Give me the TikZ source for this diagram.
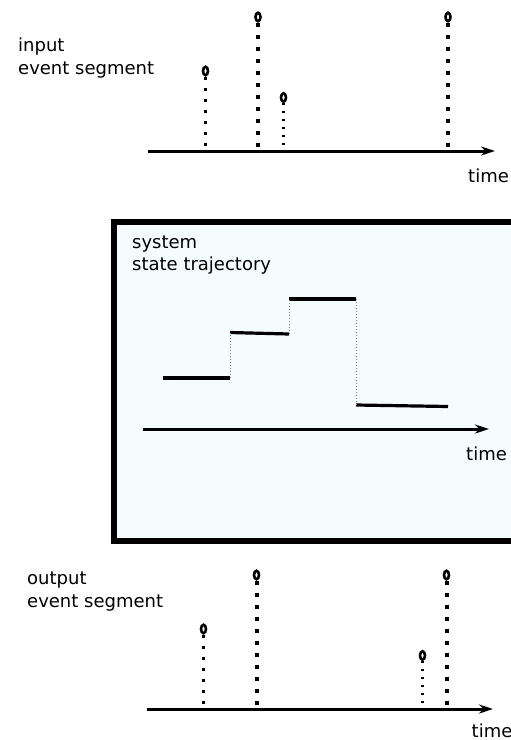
\documentclass[tikz,border=0pt]{standalone}
\usepackage{fontspec}
\setmainfont{DejaVu Sans}
\usetikzlibrary{shapes.geometric,arrows.meta}
\definecolor{boxfill}{RGB}{245,252,252}

\begin{document}
\begin{tikzpicture}[x=1pt,y=-1pt,
  lbl/.style={anchor=base west,inner sep=0pt,font=\fontsize{18}{22.5}\selectfont,align=left},
  ev/.style={draw,ellipse,line width=2.6pt,minimum width=5pt,minimum height=8.5pt,inner sep=0pt},
  bigstem/.style={line width=4pt,dash pattern=on 4pt off 8pt},
  smallstem/.style={line width=3pt,dash pattern=on 3pt off 8pt},
  tinystem/.style={line width=2.4pt,dash pattern=on 2.4pt off 5.6pt},
  timeaxis/.style={line width=3pt,-{Stealth[length=14pt,width=9pt]}},
  level/.style={line width=3.2pt},
  jump/.style={gray,line width=1pt,dotted}]
\useasboundingbox (0,0) rectangle (511,740);

    \node[lbl] (intext) at (18,74) {input\\event segment};
    \coordinate (inleft) at (148,151);
    \coordinate (inright) at (495,151);
    \draw[timeaxis] (inleft) -- (inright);
    \node[lbl] (intime) at (468,182) {time};
    \node[ev] (ina) at (205.5,71) {};
    \node[ev] (inb) at (258,17) {};
    \node[ev] (inc) at (283.5,97.5) {};
    \node[ev] (ind) at (448,17) {};
    \coordinate (ina0) at (205.5,151);
    \coordinate (inb0) at (258,151);
    \coordinate (inc0) at (283.5,151);
    \coordinate (ind0) at (448,151);
    \draw[smallstem] (ina.south) -- (ina0);
    \draw[bigstem] (inb.south) -- (inb0);
    \draw[tinystem] (inc.south) -- (inc0);
    \draw[bigstem] (ind.south) -- (ind0);

    \draw[line width=5.5pt,fill=boxfill] (114,222) rectangle (540,541);
    \node[lbl] (systext) at (132,270.7) {system\\state trajectory};
    \coordinate (sysleft) at (143,429);
    \coordinate (sysright) at (489,429);
    \draw[timeaxis] (sysleft) -- (sysright);
    \node[lbl] (systime) at (466,460) {time};
    \coordinate (s1) at (163,378);
    \coordinate (s2) at (230,378);
    \coordinate (s3) at (230,332.5);
    \coordinate (s4) at (289,334);
    \coordinate (s5) at (289,299);
    \coordinate (s6) at (356,299);
    \coordinate (s7) at (356,405);
    \coordinate (s8) at (448,406.5);
    \draw[level] (s1) -- (s2);
    \draw[level] (s3) -- (s4);
    \draw[level] (s5) -- (s6);
    \draw[level] (s7) -- (s8);
    \draw[jump] (s2) -- (s3);
    \draw[jump] (s4) -- (s5);
    \draw[jump] (s6) -- (s7);

    \node[lbl] (outtext) at (27,607) {output\\event segment};
    \coordinate (outleft) at (147,709);
    \coordinate (outright) at (493,709);
    \draw[timeaxis] (outleft) -- (outright);
    \node[lbl] (outtime) at (471.5,737) {time};
    \node[ev] (outa) at (203.5,629) {};
    \node[ev] (outb) at (256.5,575) {};
    \node[ev] (outc) at (422.5,655.5) {};
    \node[ev] (outd) at (446.5,575) {};
    \coordinate (outa0) at (203.5,709);
    \coordinate (outb0) at (256.5,709);
    \coordinate (outc0) at (422.5,709);
    \coordinate (outd0) at (446.5,709);
    \draw[smallstem] (outa.south) -- (outa0);
    \draw[bigstem] (outb.south) -- (outb0);
    \draw[tinystem] (outc.south) -- (outc0);
    \draw[bigstem] (outd.south) -- (outd0);
\end{tikzpicture}
\end{document}
